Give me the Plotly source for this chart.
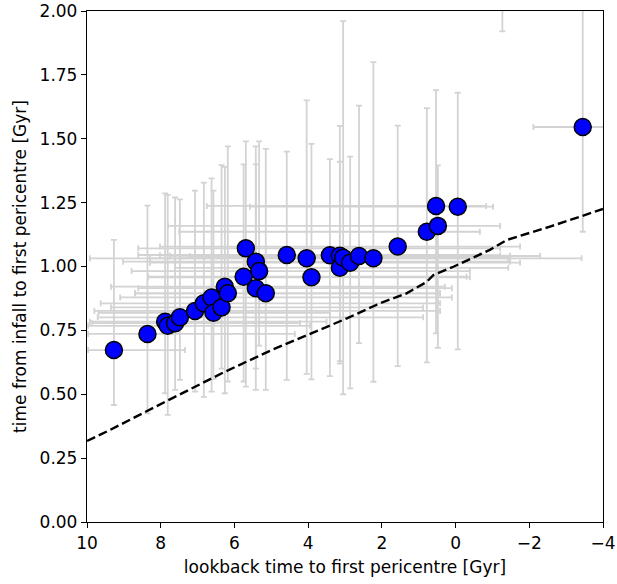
import plotly.graph_objects as go

# lookback time to first pericentre [Gyr] and time from infall to first pericentre [Gyr]
t_peri = [9.27, 8.36, 7.88, 7.81, 7.61, 7.48, 7.07, 6.83, 6.62, 6.57, 6.35, 6.26,
          6.18, 5.69, 5.42, 5.33, 5.75, 5.42, 5.15, 4.58, 4.04, 3.91, 3.41, 3.14,
          3.14, 3.05, 2.86, 2.62, 2.23, 1.57, 0.78, 0.48, 0.53, -0.06, -3.45, -1.27]
t_infall = [0.673, 0.736, 0.784, 0.768, 0.778, 0.801, 0.826, 0.856, 0.879, 0.819,
            0.840, 0.921, 0.895, 1.071, 1.019, 0.982, 0.960, 0.915, 0.895, 1.045,
            1.032, 0.958, 1.044, 1.042, 0.995, 1.034, 1.015, 1.041, 1.032, 1.078,
            1.136, 1.159, 1.237, 1.234, 1.546, 2.30]

# uncertainty ranges
t_peri_hi = [9.97, 9.97, 9.92, 9.97, 9.86, 9.71, 9.80, 9.63, 9.10, 9.69, 9.35, 9.35,
             8.70, 8.61, 9.02, 8.79, 8.34, 8.61, 8.70, 8.61, 8.29, 8.34, 8.02, 7.75,
             7.61, 7.48, 8.29, 7.21, 9.92, 8.02, 7.50, 7.80, 6.75, 5.58, -2.11, -1.0]
t_peri_lo = [7.34, 4.36, 3.50, 3.95, 4.22, 0.88, 0.42, 0.42, 0.10, 3.41, 0.88, 0.29,
             0.42, -1.21, -1.48, -0.39, -0.30, 0.10, 0.42, -0.66, -1.43, -0.39, -1.21,
             -1.48, -1.43, -1.48, -1.75, -2.29, -3.42, -1.75, -0.66, -1.21, -0.83,
             -1.02, -5.0, -1.5]
t_infall_hi = [1.104, 1.238, 1.286, 1.280, 1.270, 1.263, 1.297, 1.328, 1.345, 1.297,
               1.397, 1.390, 1.470, 1.490, 1.470, 1.490, 1.400, 1.400, 1.460, 1.450,
               1.650, 1.480, 1.420, 1.550, 1.410, 1.960, 1.430, 1.630, 1.800, 1.551,
               1.620, 1.396, 1.690, 1.680, 2.500, 2.70]
t_infall_lo = [0.458, 0.425, 0.504, 0.419, 0.517, 0.556, 0.510, 0.490, 0.510, 0.560,
               0.600, 0.504, 0.550, 0.530, 0.517, 0.690, 0.550, 0.600, 0.517, 0.556,
               0.580, 0.558, 0.571, 0.620, 0.630, 0.500, 0.523, 0.700, 0.549, 0.610,
               0.625, 0.682, 0.738, 0.676, 1.136, 1.92]

# reference relation (dashed)
ref_t = [10.0, 9.38, 7.79, 6.26, 4.99, 3.72, 2.95, 2.05, 1.33, 0.78, 0.60, 0.06,
         -0.93, -1.39, -2.56, -4.0]
ref_infall = [0.317, 0.360, 0.477, 0.588, 0.673, 0.751, 0.797, 0.856, 0.895, 0.940,
              0.967, 0.999, 1.065, 1.104, 1.156, 1.225]

ex_plus = [h - x for h, x in zip(t_peri_hi, t_peri)]
ex_minus = [x - l for l, x in zip(t_peri_lo, t_peri)]
ey_plus = [h - y for h, y in zip(t_infall_hi, t_infall)]
ey_minus = [y - l for l, y in zip(t_infall_lo, t_infall)]

fig = go.Figure()

fig.add_trace(go.Scatter(
    x=t_peri, y=t_infall, mode="markers",
    marker=dict(color="#0000ff", size=17, line=dict(color="black", width=1.5)),
    error_x=dict(type="data", array=ex_plus, arrayminus=ex_minus,
                 color="#d3d3d3", thickness=1.8, width=3),
    error_y=dict(type="data", array=ey_plus, arrayminus=ey_minus,
                 color="#d3d3d3", thickness=1.8, width=3),
    showlegend=False,
))

fig.add_trace(go.Scatter(
    x=ref_t, y=ref_infall, mode="lines",
    line=dict(color="black", width=2.4, dash="9px,4px"),
    showlegend=False,
))

axis_common = dict(
    showline=True, mirror=True, linecolor="black", linewidth=1.3,
    ticks="outside", ticklen=5, tickwidth=1.2, tickcolor="black",
    showgrid=False, zeroline=False, automargin=False,
    tickfont=dict(size=17, color="black"),
)

fig.update_layout(
    width=617, height=584,
    margin=dict(l=87, r=14, t=11, b=62),
    plot_bgcolor="white", paper_bgcolor="white",
    font=dict(family="DejaVu Sans", color="black"),
    xaxis=dict(range=[10, -4], tickvals=[10, 8, 6, 4, 2, 0, -2, -4],
               title=dict(text="lookback time to first pericentre [Gyr]",
                          font=dict(size=17), standoff=9),
               **axis_common),
    yaxis=dict(range=[0, 2], tickvals=[0, 0.25, 0.5, 0.75, 1.0, 1.25, 1.5, 1.75, 2.0],
               tickformat=".2f",
               title=dict(text="time from infall to first pericentre [Gyr]",
                          font=dict(size=17), standoff=8),
               **axis_common),
)

fig.write_html("out.html", config={"displayModeBar": False},
               post_script="document.body.style.margin='0';")
